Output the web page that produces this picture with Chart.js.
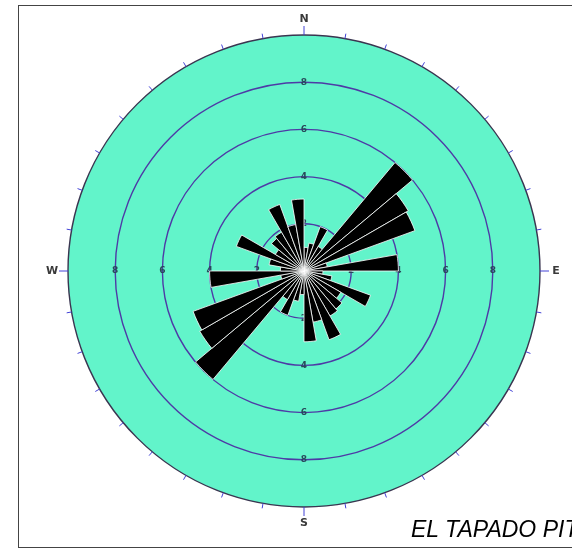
<!DOCTYPE html>
<html>
<head>
<meta charset="utf-8">
<script src="https://cdn.jsdelivr.net/npm/chart.js@4.4.1/dist/chart.umd.min.js"></script>
<style>
  html, body { margin: 0; padding: 0; background: #fff; overflow: hidden; width: 572px; height: 551px; }
  #frame { position: absolute; left: 18px; top: 5px; width: 620px; height: 541px; border: 1px solid #444; }
  #rose { position: absolute; left: 0; top: 0; }
  #pit { position: absolute; left: 411px; top: 518px; font: italic 23px "Liberation Sans", Arial, sans-serif; line-height: 23px; white-space: nowrap; color: #000; }
</style>
</head>
<body>
<div id="frame"></div>
<canvas id="rose" width="572" height="551"></canvas>
<div id="pit">EL TAPADO PIT</div>
<script>
// 10 degree sectors, clockwise from north
const sectors = [
  '0-10', '10-20', '20-30', '30-40', '40-50', '50-60',
  '60-70', '70-80', '80-90', '90-100', '100-110', '110-120',
  '120-130', '130-140', '140-150', '150-160', '160-170', '170-180',
  '180-190', '190-200', '200-210', '210-220', '220-230', '230-240',
  '240-250', '250-260', '260-270', '270-280', '280-290', '290-300',
  '300-310', '310-320', '320-330', '330-340', '340-350', '350-360'
]
const counts = [
  1.0, 1.2, 2.0, 1.2, 6.0, 5.1,
  5.0, 1.0, 4.0, 0.8, 1.2, 3.0,
  1.8, 2.1, 2.2, 3.1, 2.2, 3.0,
  1.0, 1.3, 2.0, 1.4, 6.0, 5.1,
  5.0, 1.0, 4.0, 1.0, 1.5, 3.05,
  1.4, 1.8, 1.9, 3.0, 2.0, 3.05
]
const ringTicks = [2, 4, 6, 8]
const compass = ['N', 'E', 'S', 'W']
const maxCount = 10

const diskColor = 'rgb(98, 244, 202)'
const ringColor = '#4e3aa6'
const tickColor = '#4242d6'

const roseDecor = {
    id: 'roseDecor',
    beforeDraw(chart) {
        const r = chart.scales.r
        const ctx = chart.ctx
        ctx.save()
        ctx.fillStyle = diskColor
        ctx.beginPath()
        ctx.arc(r.xCenter, r.yCenter, r.getDistanceFromCenterForValue(maxCount), 0, Math.PI * 2)
        ctx.fill()
        ctx.restore()
    },
    beforeDatasetsDraw(chart) {
        // ring values along the four main axes
        const r = chart.scales.r
        const ctx = chart.ctx
        ctx.save()
        ctx.font = 'bold 9px "DejaVu Sans"'
        ctx.fillStyle = '#29495a'
        ctx.textAlign = 'center'
        ctx.textBaseline = 'middle'
        ringTicks.forEach((v) => {
            const d = r.getDistanceFromCenterForValue(v)
            ctx.fillText(v, r.xCenter, r.yCenter - d)
            ctx.fillText(v, r.xCenter, r.yCenter + d)
            ctx.fillText(v, r.xCenter + d, r.yCenter)
            ctx.fillText(v, r.xCenter - d, r.yCenter)
        })
        ctx.restore()
    },
    afterDraw(chart) {
        const r = chart.scales.r
        const ctx = chart.ctx
        const R = r.getDistanceFromCenterForValue(maxCount)
        ctx.save()
        ctx.strokeStyle = tickColor
        ctx.lineWidth = 1
        for (let deg = 0; deg < 360; deg += 10) {
            const a = (deg - 90) * Math.PI / 180
            const len = deg % 90 === 0 ? 9 : 5
            ctx.beginPath()
            ctx.moveTo(r.xCenter + Math.cos(a) * R, r.yCenter + Math.sin(a) * R)
            ctx.lineTo(r.xCenter + Math.cos(a) * (R + len), r.yCenter + Math.sin(a) * (R + len))
            ctx.stroke()
        }
        ctx.font = 'bold 11px "DejaVu Sans"'
        ctx.fillStyle = '#3a3a3a'
        ctx.textAlign = 'center'
        ctx.textBaseline = 'middle'
        compass.forEach((c, i) => {
            const a = (i * 90 - 90) * Math.PI / 180
            const off = R + 16
            ctx.fillText(c, r.xCenter + Math.cos(a) * off, r.yCenter + Math.sin(a) * off)
        })
        ctx.restore()
    }
}

const rose = new Chart(
    document.getElementById('rose'),
    {
        type: 'polarArea',
        data: {
            labels: sectors,
            datasets: [{
                data: counts,
                backgroundColor: '#000',
                borderColor: '#fff',
                borderWidth: 0.8
            }]
        },
        options: {
            responsive: false,
            animation: false,
            layout: {
                padding: { left: 68, top: 35, right: 32, bottom: 44 }
            },
            plugins: {
                legend: { display: false },
                tooltip: { enabled: false }
            },
            scales: {
                r: {
                    min: 0,
                    max: maxCount,
                    ticks: { stepSize: 2, display: false },
                    grid: {
                        circular: true,
                        color: (ctx) => ctx.tick && ctx.tick.value === maxCount ? '#3a3550' : ringColor,
                        lineWidth: 1.4
                    },
                    angleLines: { display: false },
                    pointLabels: { display: false }
                }
            }
        },
        plugins: [roseDecor]
    }
)
</script>
</body>
</html>
